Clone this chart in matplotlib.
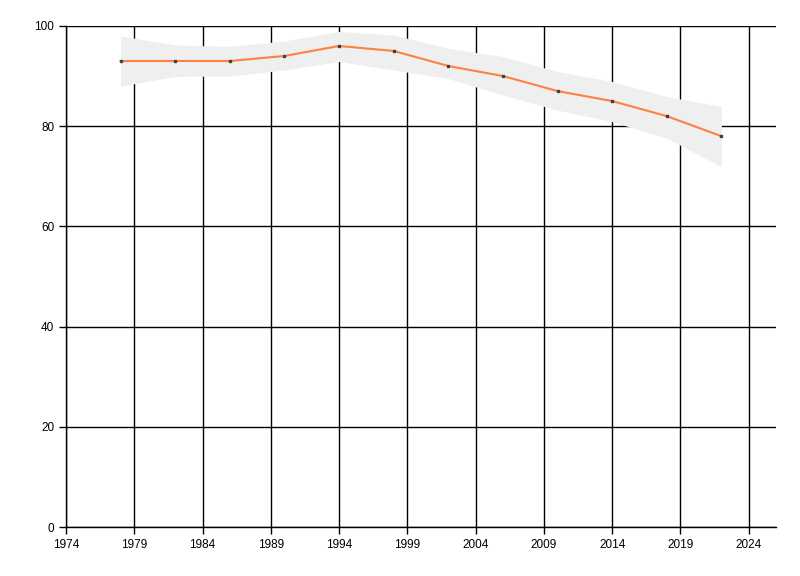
import matplotlib
matplotlib.use("Agg")
import matplotlib.pyplot as plt

years = [1978, 1982, 1986, 1990, 1994, 1998, 2002, 2006, 2010, 2014, 2018, 2022]
values = [93, 93, 93, 94, 96, 95, 92, 90, 87, 85, 82, 78]
upper = [98, 96.2, 95.9, 97, 98.9, 98.2, 95.5, 93.9, 90.9, 88.9, 85.9, 83.9]
lower = [88, 89.9, 90, 91.2, 92.9, 91.2, 89.5, 86.2, 83.2, 80.9, 77.6, 71.9]
xticks = [1974, 1979, 1984, 1989, 1994, 1999, 2004, 2009, 2014, 2019, 2024]
yticks = [0, 20, 40, 60, 80, 100]

plt.rcParams['font.family'] = ['Liberation Sans', 'DejaVu Sans']
fig = plt.figure(figsize=(8, 5.76), dpi=100)
ax = fig.add_axes([0.0825, 0.085, 0.8875, 0.87])

ax.fill_between(years, lower, upper, color='#efefef', linewidth=0, zorder=1)
ax.grid(True, color='black', linewidth=1, zorder=0)
ax.set_axisbelow(True)
ax.plot(years, values, color='#ff8040', linewidth=1.5, zorder=3)
ax.plot(years, values, linestyle='none', marker='s', markersize=1.6,
        color='#404040', zorder=4)

ax.set_xlim(1974, 2026)
ax.set_ylim(0, 100)
ax.set_xticks(xticks)
ax.set_yticks(yticks)
ax.tick_params(labelsize=8.5, length=5, width=1, colors='black')
for s in ['top', 'right']:
    ax.spines[s].set_visible(False)
for s in ['left', 'bottom']:
    ax.spines[s].set_linewidth(1)

fig.savefig('out.png', dpi=100)
